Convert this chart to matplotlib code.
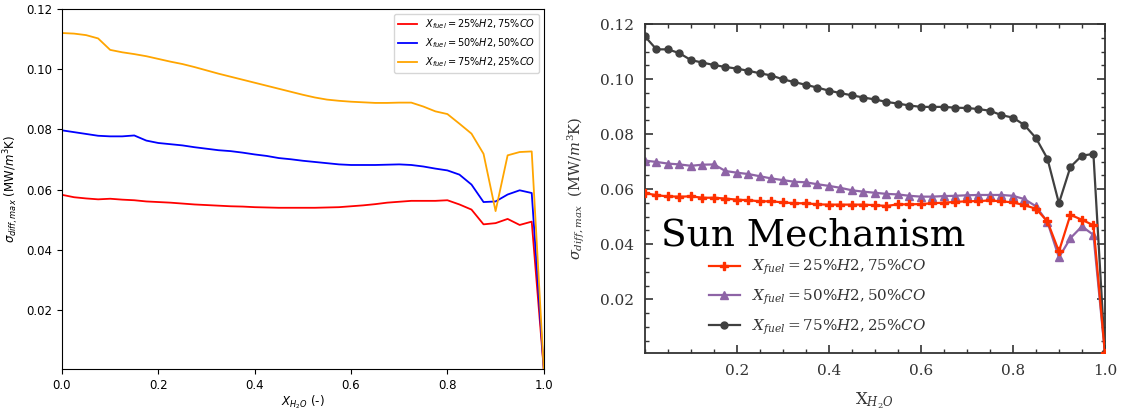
import matplotlib
matplotlib.use("Agg")
import matplotlib.pyplot as plt
from matplotlib.ticker import MultipleLocator, FixedLocator

# x_H2O grid (both panels)
x_h2o = [0.0, 0.025, 0.05, 0.075, 0.1, 0.125, 0.15, 0.175, 0.2, 0.225,
         0.25, 0.275, 0.3, 0.325, 0.35, 0.375, 0.4, 0.425, 0.45, 0.475,
         0.5, 0.525, 0.55, 0.575, 0.6, 0.625, 0.65, 0.675, 0.7, 0.725,
         0.75, 0.775, 0.8, 0.825, 0.85, 0.875, 0.9, 0.925, 0.95, 0.975, 1.0]

labels = [r'$X_{fuel}=25\%H2, 75\%CO$',
          r'$X_{fuel}=50\%H2, 50\%CO$',
          r'$X_{fuel}=75\%H2, 25\%CO$']

# left panel
left_25 = [0.0583, 0.0575, 0.0571, 0.0568, 0.0570, 0.0567, 0.0565, 0.0561, 0.0559, 0.0557,
           0.0554, 0.0551, 0.0549, 0.0547, 0.0545, 0.0544, 0.0542, 0.0541, 0.0540, 0.0540,
           0.0540, 0.0540, 0.0541, 0.0542, 0.0545, 0.0548, 0.0552, 0.0557, 0.0560, 0.0563,
           0.0563, 0.0563, 0.0565, 0.0551, 0.0534, 0.0485, 0.0489, 0.0503, 0.0483, 0.0494, 0.0005]
left_50 = [0.0797, 0.0791, 0.0785, 0.0779, 0.0777, 0.0777, 0.0780, 0.0763, 0.0755, 0.0751,
           0.0747, 0.0741, 0.0736, 0.0731, 0.0728, 0.0723, 0.0717, 0.0712, 0.0705, 0.0701,
           0.0696, 0.0692, 0.0688, 0.0684, 0.0682, 0.0682, 0.0682, 0.0683, 0.0684, 0.0682,
           0.0677, 0.0670, 0.0664, 0.0650, 0.0617, 0.0559, 0.0561, 0.0584, 0.0598, 0.0589, 0.0005]
left_75 = [0.1120, 0.1118, 0.1113, 0.1102, 0.1064, 0.1056, 0.1050, 0.1043, 0.1034, 0.1025,
           0.1017, 0.1007, 0.0996, 0.0985, 0.0975, 0.0965, 0.0955, 0.0945, 0.0935, 0.0925,
           0.0915, 0.0906, 0.0899, 0.0895, 0.0892, 0.0890, 0.0888, 0.0888, 0.0889, 0.0889,
           0.0876, 0.0860, 0.0851, 0.0819, 0.0786, 0.0719, 0.0529, 0.0714, 0.0725, 0.0727, 0.0005]

# right panel (Sun mechanism)
sun_25 = [0.0586, 0.0578, 0.0574, 0.0573, 0.0574, 0.0569, 0.0569, 0.0566, 0.0562, 0.0560,
          0.0556, 0.0556, 0.0552, 0.0549, 0.0549, 0.0545, 0.0544, 0.0544, 0.0544, 0.0544,
          0.0542, 0.0539, 0.0545, 0.0545, 0.0546, 0.0549, 0.0551, 0.0554, 0.0556, 0.0557,
          0.0559, 0.0556, 0.0552, 0.0542, 0.0529, 0.0483, 0.0374, 0.0507, 0.0489, 0.0469, 0.0005]
sun_50 = [0.0704, 0.0699, 0.0693, 0.0690, 0.0685, 0.0689, 0.0690, 0.0666, 0.0660, 0.0655,
          0.0647, 0.0639, 0.0633, 0.0627, 0.0625, 0.0618, 0.0612, 0.0605, 0.0596, 0.0591,
          0.0587, 0.0583, 0.0581, 0.0576, 0.0573, 0.0573, 0.0575, 0.0576, 0.0578, 0.0579,
          0.0579, 0.0579, 0.0576, 0.0564, 0.0538, 0.0481, 0.0352, 0.0422, 0.0465, 0.0434, 0.0005]
sun_75 = [0.1155, 0.1108, 0.1108, 0.1094, 0.1069, 0.1060, 0.1051, 0.1044, 0.1038, 0.1030,
          0.1021, 0.1013, 0.0999, 0.0989, 0.0979, 0.0969, 0.0958, 0.0949, 0.0941, 0.0933,
          0.0926, 0.0917, 0.0911, 0.0904, 0.0899, 0.0899, 0.0899, 0.0896, 0.0895, 0.0891,
          0.0885, 0.0869, 0.0860, 0.0833, 0.0786, 0.0711, 0.0549, 0.0681, 0.0722, 0.0728, 0.0005]

fig = plt.figure(figsize=(11.23, 4.12), dpi=100)

# ---- left panel ----
ax1 = fig.add_axes([0.0552, 0.1044, 0.429, 0.874])
ax1.plot(x_h2o, left_25, color='red', lw=1.3, label=labels[0])
ax1.plot(x_h2o, left_50, color='blue', lw=1.3, label=labels[1])
ax1.plot(x_h2o, left_75, color='orange', lw=1.3, label=labels[2])
ax1.set_xlim(0, 1.0)
ax1.set_ylim(0.0005, 0.12)
ax1.yaxis.set_major_locator(MultipleLocator(0.02))
ax1.tick_params(labelsize=8.5)
ax1.set_xlabel(r'$X_{H_2O}$ (-)', fontsize=8.5, labelpad=1.5)
ax1.set_ylabel(r'$\sigma_{diff,max}$ (MW/$m^3$K)', fontsize=8.5)
ax1.legend(loc='upper right', fontsize=7, handlelength=2.0)

# ---- right panel ----
plt.rcParams['mathtext.fontset'] = 'dejavuserif'
serif = 'DejaVu Serif'
ax2 = fig.add_axes([0.5743, 0.1432, 0.4096, 0.7985])
ax2.plot(x_h2o, sun_25, color='#ff3000', lw=1.6, marker='P', ms=6,
         label=labels[0], zorder=3)
ax2.plot(x_h2o, sun_50, color='#8e64a6', lw=1.6, marker='^', ms=5.5,
         label=labels[1], zorder=2)
ax2.plot(x_h2o, sun_75, color='#404040', lw=1.6, marker='o', ms=5,
         label=labels[2], zorder=2)
ax2.set_xlim(0, 1.0)
ax2.set_ylim(0.0005, 0.12)
ax2.xaxis.set_major_locator(FixedLocator([0.2, 0.4, 0.6, 0.8, 1.0]))
ax2.xaxis.set_minor_locator(MultipleLocator(0.05))
ax2.yaxis.set_major_locator(MultipleLocator(0.02))
ax2.yaxis.set_minor_locator(MultipleLocator(0.005))
ax2.tick_params(which='both', direction='in', top=True, right=True,
                color='#333333', labelsize=11, labelcolor='#333333')
ax2.tick_params(which='major', length=6, width=1.2, pad=8)
ax2.tick_params(which='minor', length=3, width=1.0)
for lab in ax2.get_xticklabels() + ax2.get_yticklabels():
    lab.set_family(serif)
for sp in ax2.spines.values():
    sp.set_color('#333333')
    sp.set_linewidth(1.3)
ax2.set_xlabel(r'X$_{H_2O}$', fontsize=12, family=serif, color='#333333', labelpad=9)
ax2.set_ylabel(r'$\sigma_{diff,max}$  (MW/$m^3$K)', fontsize=10.5, family=serif,
               color='#333333', labelpad=9)
ax2.text(0.035, 0.328, 'Sun Mechanism', transform=ax2.transAxes,
         fontsize=27, family=serif, color='black')
ax2.legend(loc='lower left', bbox_to_anchor=(0.126, 0.03), frameon=False,
           prop={'family': serif, 'size': 10.9}, handlelength=2.05,
           labelspacing=0.7, labelcolor='#333333', borderaxespad=0)

fig.savefig('out.png', dpi=100)
